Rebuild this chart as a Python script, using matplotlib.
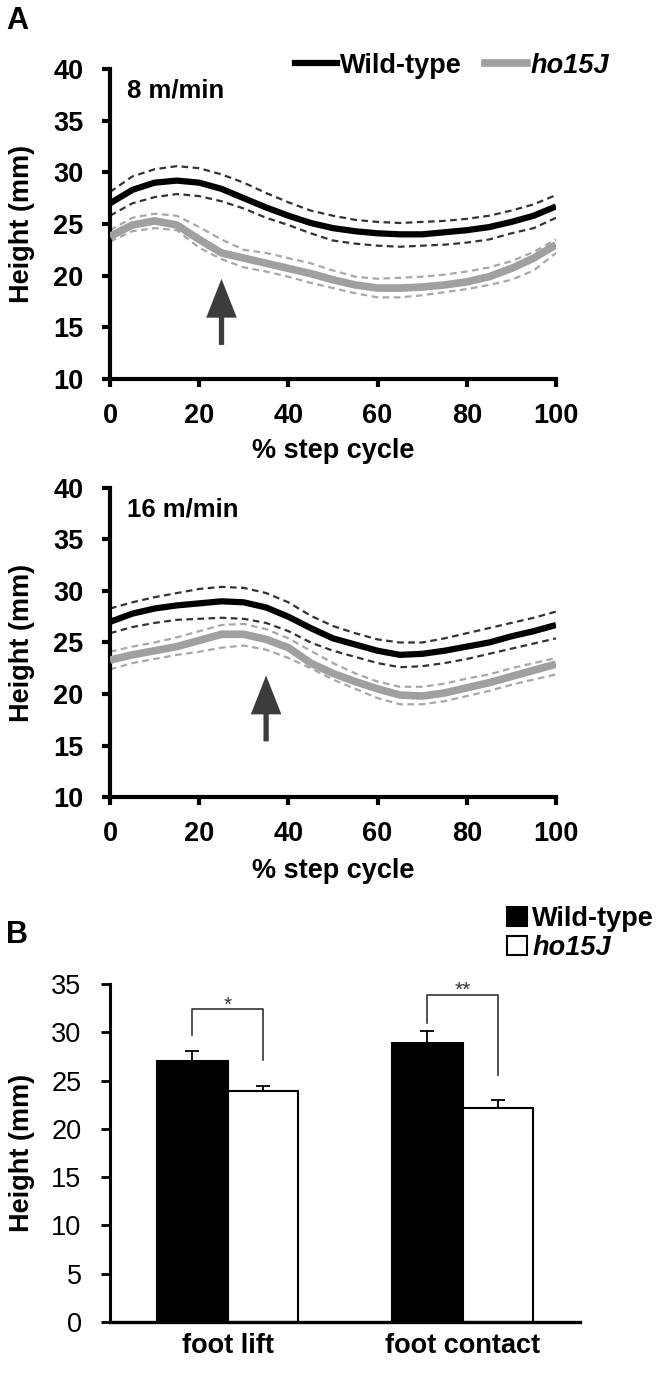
import matplotlib
matplotlib.use("Agg")
import matplotlib.pyplot as plt
from matplotlib.lines import Line2D
from matplotlib.patches import Patch
from matplotlib.font_manager import FontProperties
import numpy as np

plt.rcParams['font.family'] = ['Liberation Sans', 'DejaVu Sans']

# ---------------- data ----------------
step = [0, 5, 10, 15, 20, 25, 30, 35, 40, 45, 50, 55, 60, 65, 70, 75, 80, 85, 90, 95, 100]

# 8 m/min
wt8_mean = [27.0, 28.3, 29.0, 29.2, 29.0, 28.4, 27.5, 26.6, 25.8, 25.1, 24.6, 24.3, 24.1, 24.0, 24.0, 24.2, 24.4, 24.7, 25.2, 25.8, 26.7]
wt8_upper = [28.1, 29.6, 30.3, 30.6, 30.4, 29.8, 29.0, 28.0, 27.1, 26.3, 25.8, 25.4, 25.2, 25.1, 25.2, 25.3, 25.5, 25.8, 26.3, 26.9, 27.8]
wt8_lower = [25.8, 27.0, 27.6, 27.9, 27.7, 27.2, 26.5, 25.6, 24.9, 24.1, 23.4, 23.1, 22.9, 22.8, 22.9, 23.0, 23.2, 23.5, 24.1, 24.6, 25.6]
ho8_mean = [23.8, 24.9, 25.3, 24.9, 23.5, 22.2, 21.7, 21.2, 20.7, 20.2, 19.6, 19.1, 18.8, 18.8, 18.9, 19.1, 19.4, 19.9, 20.7, 21.7, 23.0]
ho8_upper = [24.4, 25.6, 26.0, 25.8, 24.7, 23.5, 22.5, 22.2, 21.7, 21.2, 20.5, 19.9, 19.7, 19.8, 19.9, 20.1, 20.4, 20.8, 21.4, 22.3, 23.5]
ho8_lower = [23.3, 24.3, 24.6, 24.4, 22.7, 21.6, 20.8, 20.4, 19.9, 19.3, 18.8, 18.3, 17.9, 17.9, 18.1, 18.4, 18.7, 19.1, 19.6, 20.5, 22.2]

# 16 m/min
wt16_mean = [27.0, 27.8, 28.3, 28.6, 28.8, 29.0, 28.9, 28.4, 27.5, 26.4, 25.4, 24.8, 24.2, 23.8, 23.9, 24.2, 24.6, 25.0, 25.6, 26.1, 26.7]
wt16_upper = [28.3, 28.9, 29.4, 29.8, 30.2, 30.4, 30.3, 29.8, 28.9, 27.6, 26.6, 25.9, 25.3, 25.0, 25.0, 25.4, 25.9, 26.4, 26.9, 27.4, 28.0]
wt16_lower = [25.9, 26.5, 26.9, 27.2, 27.3, 27.4, 27.3, 26.9, 26.1, 25.0, 24.2, 23.6, 23.0, 22.6, 22.7, 23.0, 23.4, 23.9, 24.4, 24.9, 25.4]
ho16_mean = [23.3, 23.8, 24.2, 24.6, 25.2, 25.8, 25.8, 25.3, 24.5, 23.0, 22.0, 21.2, 20.5, 19.9, 19.8, 20.1, 20.6, 21.1, 21.7, 22.3, 22.9]
ho16_upper = [24.1, 24.6, 25.0, 25.5, 26.1, 26.7, 26.8, 26.3, 25.4, 24.2, 23.0, 22.0, 21.2, 20.7, 20.7, 21.0, 21.5, 21.9, 22.5, 23.0, 23.5]
ho16_lower = [22.4, 23.0, 23.4, 23.8, 24.1, 24.5, 24.7, 24.3, 23.5, 22.5, 21.4, 20.5, 19.6, 19.0, 19.0, 19.3, 19.8, 20.3, 20.9, 21.4, 21.9]

# Panel B
phases = ["foot lift", "foot contact"]
wt_bar = [27.0, 28.9]
wt_err = [1.1, 1.2]
ho_bar = [23.9, 22.2]
ho_err = [0.5, 0.8]
sig_labels = ["*", "**"]

groups = ["Wild-type", "ho15J"]
xticks_A = [0, 20, 40, 60, 80, 100]
yticks_A = [10, 15, 20, 25, 30, 35, 40]
yticks_B = [0, 5, 10, 15, 20, 25, 30, 35]

# ---------------- styles ----------------
W, H = 658, 1375
fig = plt.figure(figsize=(W / 100, H / 100), dpi=100)

FS = 19.5
WT_C = "black"
WT_D = "#333333"
HO_C = "#a0a0a0"
HO_D = "#a8a8a8"


def fax(left, top, right, bottom):
    return fig.add_axes([left / W, 1 - bottom / H, (right - left) / W, (bottom - top) / H])


def style_A(ax):
    for s in ["top", "right"]:
        ax.spines[s].set_visible(False)
    for s in ["left", "bottom"]:
        ax.spines[s].set_linewidth(3)
    ax.set_xlim(0, 100)
    ax.set_ylim(10, 40)
    ax.set_xticks(xticks_A)
    ax.set_yticks(yticks_A)
    ax.tick_params(axis='y', direction='out', length=6, width=3, pad=13, labelsize=FS)
    ax.tick_params(axis='x', direction='out', length=6, width=3, pad=11.5, labelsize=FS)
    for lab in ax.get_xticklabels() + ax.get_yticklabels():
        lab.set_fontweight('bold')
    ax.set_ylabel("Height (mm)", fontsize=FS, fontweight='bold')
    ax.set_xlabel("% step cycle", fontsize=FS, fontweight='bold')
    ax.yaxis.set_label_coords(-0.168, 0.5)


def draw_curves(ax, wm, wu, wl, hm, hu, hl):
    for y in (hu, hl):
        ax.plot(step, y, color=HO_D, lw=1.6, dashes=(3, 2), zorder=2,
                dash_joinstyle='round')
    for y in (wu, wl):
        ax.plot(step, y, color=WT_D, lw=1.6, dashes=(3, 2), zorder=2,
                dash_joinstyle='round')
    ax.plot(step, hm, color=HO_C, lw=5.5, zorder=3, solid_capstyle='butt',
            solid_joinstyle='round')
    ax.plot(step, wm, color=WT_C, lw=4.5, zorder=4, solid_capstyle='butt',
            solid_joinstyle='round')


def arrow(ax, x, y0, y1):
    ax.annotate("", xy=(x, y1), xytext=(x, y0),
                arrowprops=dict(arrowstyle="simple,head_length=28,head_width=22,tail_width=3.8",
                                mutation_scale=1, color="#3c3c3c", lw=0,
                                shrinkA=0, shrinkB=0))


# ---- A1 ----
ax1 = fax(110, 69, 556, 379)
draw_curves(ax1, wt8_mean, wt8_upper, wt8_lower, ho8_mean, ho8_upper, ho8_lower)
style_A(ax1)
ax1.xaxis.set_label_coords(0.5, -0.19)
ax1.text(0.038, 0.932, "8 m/min", transform=ax1.transAxes, fontsize=18.5,
         fontweight='bold', ha='left', va='center')
arrow(ax1, 25, 13.3, 19.7)

leg_handles = [Line2D([], [], color=WT_C, lw=4.5), Line2D([], [], color=HO_C, lw=5.5)]
leg1 = ax1.legend(leg_handles, groups, ncol=2, loc='center left', bbox_to_anchor=(0.415, 1.01),
                  frameon=False, handlelength=1.55, handletextpad=0.12, columnspacing=0.85,
                  borderpad=0, borderaxespad=0, prop=FontProperties(weight='bold', size=FS))
leg1.get_texts()[1].set_style('italic')

# ---- A2 ----
ax2 = fax(110, 488, 556, 797)
draw_curves(ax2, wt16_mean, wt16_upper, wt16_lower, ho16_mean, ho16_upper, ho16_lower)
style_A(ax2)
ax2.xaxis.set_label_coords(0.5, -0.197)
ax2.text(0.038, 0.929, "16 m/min", transform=ax2.transAxes, fontsize=18.5,
         fontweight='bold', ha='left', va='center')
arrow(ax2, 35, 15.4, 21.8)

# ---- B ----
ax3 = fax(110, 984, 580, 1322)
xc = np.array([0.5, 1.5])
bw = 0.3
ax3.bar(xc - bw / 2, wt_bar, width=bw, color='black', edgecolor='black', lw=1.5, zorder=2)
ax3.bar(xc + bw / 2, ho_bar, width=bw, color='white', edgecolor='black', lw=1.5, zorder=2)
ax3.errorbar(xc - bw / 2, wt_bar, yerr=[[0, 0], wt_err], fmt='none', ecolor='black',
             elinewidth=1.3, capsize=5, capthick=1.3, zorder=1)
ax3.errorbar(xc + bw / 2, ho_bar, yerr=[[0, 0], ho_err], fmt='none', ecolor='black',
             elinewidth=1.3, capsize=5, capthick=1.3, zorder=1)

bracket_top = [32.4, 33.9]
bracket_left = [29.7, 31.0]
bracket_right = [27.1, 25.6]
for i in range(2):
    xl, xr = xc[i] - bw / 2, xc[i] + bw / 2
    ax3.plot([xl, xl, xr, xr], [bracket_left[i], bracket_top[i], bracket_top[i], bracket_right[i]],
             color='#333333', lw=1.2, zorder=3)
    ax3.annotate(sig_labels[i], xy=((xl + xr) / 2, bracket_top[i]), xytext=(0, -1),
                 textcoords='offset points', ha='center', va='baseline', fontsize=15,
                 color='#333333')

ax3.set_xlim(0, 2)
ax3.set_ylim(0, 35)
ax3.set_yticks(yticks_B)
ax3.set_xticks(xc)
ax3.set_xticklabels(phases, fontsize=FS, fontweight='bold')
for s in ["top", "right"]:
    ax3.spines[s].set_visible(False)
ax3.spines['left'].set_linewidth(2.2)
ax3.spines['bottom'].set_linewidth(2.4)
ax3.tick_params(axis='y', direction='out', length=6.5, width=2, pad=14, labelsize=FS)
ax3.tick_params(axis='x', length=0, pad=8)
ax3.set_ylabel("Height (mm)", fontsize=FS, fontweight='bold')
ax3.yaxis.set_label_coords(-0.159, 0.5)

legB = ax3.legend([Patch(facecolor='black', edgecolor='black', lw=1.5),
                   Patch(facecolor='white', edgecolor='black', lw=1.5)], groups,
                  loc='upper left', bbox_to_anchor=(507 / W, 1 - 906 / H),
                  bbox_transform=fig.transFigure, frameon=False,
                  handlelength=0.74, handleheight=0.7, handletextpad=0.19,
                  labelspacing=0.1, borderpad=0, borderaxespad=0,
                  prop=FontProperties(weight='bold', size=FS))
legB.get_texts()[1].set_style('italic')

# panel letters
fig.text(6 / W, 1 - 6 / H, "A", fontsize=22, fontweight='bold', ha='left', va='top')
fig.text(6 / W, 1 - 920 / H, "B", fontsize=22, fontweight='bold', ha='left', va='top')

fig.savefig("out.png", dpi=100)
